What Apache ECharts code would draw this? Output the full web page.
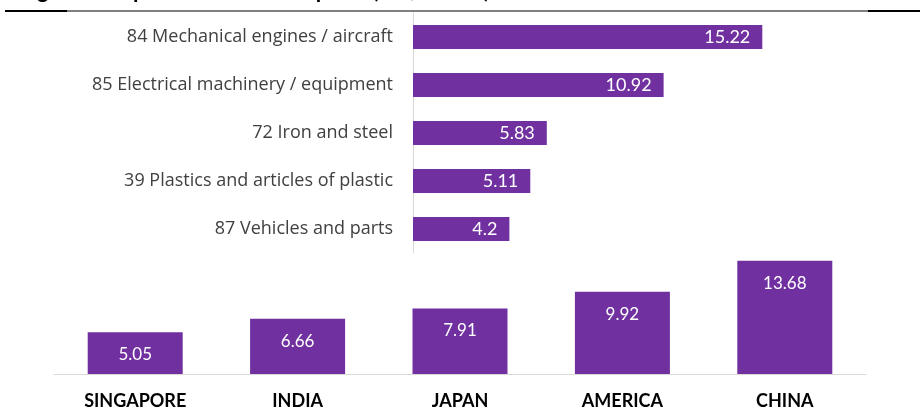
<!DOCTYPE html>
<html>
<head>
<meta charset="utf-8">
<script src="https://cdn.jsdelivr.net/npm/echarts@6/dist/echarts.min.js"></script>
<style>
html,body{margin:0;padding:0;background:#fff;}
#c{width:920px;height:410px;}
</style>
</head>
<body>
<div id="c"></div>
<script>
const titleText = "Figure 4: Top Iron and Steel Imports (US$ billion)";
const productCategories = ["84 Mechanical engines / aircraft", "85 Electrical machinery / equipment", "72 Iron and steel", "39 Plastics and articles of plastic", "87 Vehicles and parts"];
const productValues = [15.22, 10.92, 5.83, 5.11, 4.2];
const countryCategories = ["SINGAPORE", "INDIA", "JAPAN", "AMERICA", "CHINA"];
const countryValues = [5.05, 6.66, 7.91, 9.92, 13.68];

const purple = '#7030A0';
const font = 'Lato';
const chart = echarts.init(document.getElementById('c'), null, {renderer: 'canvas'});
chart.setOption({
  animation: false,
  textStyle: {fontFamily: font},
  graphic: [
    {type: 'text', x: 19, y: -20, style: {text: titleText, font: 'bold 22px Lato', fill: '#000'}},
    {type: 'rect', shape: {x: 5, y: 10, width: 62, height: 2}, style: {fill: '#000'}},
    {type: 'rect', shape: {x: 67, y: 10.5, width: 801, height: 1}, style: {fill: '#000'}},
    {type: 'rect', shape: {x: 868, y: 10, width: 52, height: 2}, style: {fill: '#000'}}
  ],
  grid: [
    {left: 413, top: 13, width: 459, height: 240},
    {left: 54, top: 258, width: 812, height: 119}
  ],
  xAxis: [
    {gridIndex: 0, type: 'value', min: 0, max: 20, show: false},
    {gridIndex: 1, type: 'category', data: countryCategories,
     axisLine: {lineStyle: {color: '#d9d9d9', width: 1}}, axisTick: {show: false},
     axisLabel: {fontFamily: font, fontSize: 18, fontWeight: 'bold', color: '#000', margin: 18}}
  ],
  yAxis: [
    {gridIndex: 0, type: 'category', data: productCategories, inverse: true,
     axisLine: {lineStyle: {color: '#d9d9d9', width: 1}}, axisTick: {show: false},
     axisLabel: {fontFamily: 'Open Sans', fontSize: 18, color: '#404040', margin: 20}},
    {gridIndex: 1, type: 'value', min: 0, max: 14, show: false}
  ],
  series: [
    {type: 'bar', xAxisIndex: 0, yAxisIndex: 0, data: productValues, barWidth: 24,
     itemStyle: {color: purple},
     label: {show: true, position: 'insideRight', distance: 12, color: '#fff', fontFamily: font, fontSize: 18}},
    {type: 'bar', xAxisIndex: 1, yAxisIndex: 1, data: countryValues, barWidth: 95,
     itemStyle: {color: purple},
     label: {show: true, position: 'insideTop', distance: 14, color: '#fff', fontFamily: font, fontSize: 17}}
  ]
});
</script>
</body>
</html>
